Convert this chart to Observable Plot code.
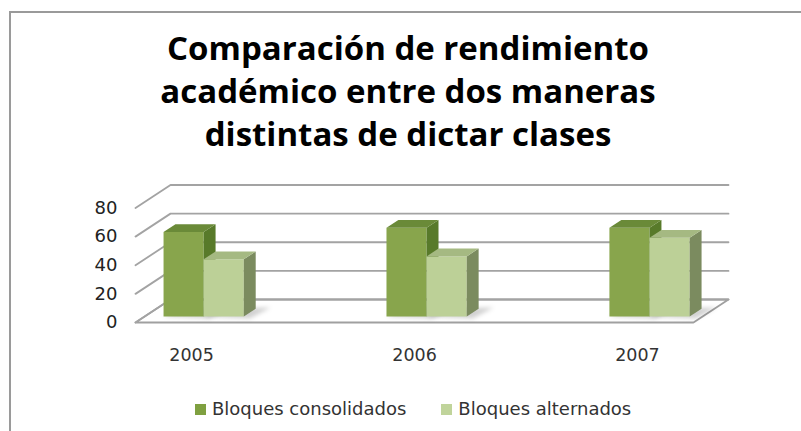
<!DOCTYPE html>
<html>
<head>
<meta charset="utf-8">
<script src="https://cdn.jsdelivr.net/npm/d3@7"></script>
<script src="https://cdn.jsdelivr.net/npm/@observablehq/plot@0.6"></script>
<style>
  html, body { margin: 0; padding: 0; background: #fff; }
  #root { position: relative; width: 801px; height: 431px; overflow: hidden; background: #fff; }
  #frame { position: absolute; left: 9px; top: 11px; width: 820px; height: 440px; border: 2px solid #9a9a9a; box-sizing: border-box; }
  #title { position: absolute; left: 9px; width: 798px; top: 26px; text-align: center;
           font-family: "Open Sans", sans-serif; font-weight: 700; font-size: 33px; line-height: 43px; color: #000; }
  #chart { position: absolute; left: 0; top: 170px; }
  #legend { position: absolute; left: 195px; top: 398px; display: flex; gap: 35px;
            font-family: "DejaVu Sans", sans-serif; font-size: 18px; line-height: 21px; color: #333; }
  .item { display: flex; align-items: center; gap: 6px; }
  .sw { width: 11px; height: 11px; display: inline-block; margin-top: 2px; }
</style>
</head>
<body>
<div id="root">
  <div id="frame"></div>
  <div id="title">Comparación de rendimiento<br>académico entre dos maneras<br>distintas de dictar clases</div>
  <div id="chart"></div>
  <div id="legend"></div>
</div>
<script>
// ---- data ----
const years = ["2005", "2006", "2007"];
const consolidados = [59, 62, 62];
const alternados = [40, 42, 55];
const seriesNames = ["Bloques consolidados", "Bloques alternados"];
const yTicks = [0, 20, 40, 60, 80];

// ---- styles ----
const seriesColors = [
  {front: "#88a54c", side: "#587a2a", top: "#6a8a38", swatch: "#7fa040"},
  {front: "#bcd097", side: "#7b8b5f", top: "#a5b982", swatch: "#c0d49b"}
];

// ---- layout ----
const W = 801, H = 200;
const ML = 135, MR = 108, MT = 37.5, MB = 48;
const X0 = -0.265, X1 = 2.238;
const kx = (W - ML - MR) / (X1 - X0);
const ky = (H - MT - MB) / 80;
const DX = 35, DY = 23;           // depth offset of the back wall (px)
const proj = (x, y, d) => ({x: x + d * DX / kx, y: y + d * DY / ky});
const barW = 0.18, d0 = 0.26, d1 = 0.6;

// grid lines (left wall + back wall)
const grid = [];
yTicks.forEach(t => {
  [proj(X0, t, 0), proj(X0, t, 1), proj(X1, t, 1)].forEach(p => grid.push({...p, g: t}));
});
const floor = [proj(X0, 0, 0), proj(X1, 0, 0), proj(X1, 0, 1), proj(X0, 0, 1), proj(X0, 0, 0)];

// bars
const series = [consolidados, alternados];
const faces = series.map(() => ({front: [], side: [], top: [], shadow: []}));
series.forEach((vals, s) => {
  vals.forEach((v, i) => {
    const xa = i - barW + s * barW, xb = xa + barW;
    const f = faces[s];
    const id = years[i];
    [proj(xa, 0, d0), proj(xb, 0, d0), proj(xb, v, d0), proj(xa, v, d0)].forEach(p => f.front.push({...p, g: id}));
    [proj(xb, 0, d0), proj(xb, 0, d1), proj(xb, v, d1), proj(xb, v, d0)].forEach(p => f.side.push({...p, g: id}));
    [proj(xa, v, d0), proj(xb, v, d0), proj(xb, v, d1), proj(xa, v, d1)].forEach(p => f.top.push({...p, g: id}));
    const sx = 6 / kx, sy = 5 / ky;
    [proj(xa, 0, d0), proj(xb + sx, -sy * 0.4, d0), proj(xb + sx * 2.2, 0, d1 + 0.05), proj(xa + sx, 0, d1)].forEach(p => f.shadow.push({...p, g: id}));
  });
});

const marks = [
  Plot.line(floor, {x: "x", y: "y", fill: "#fff", stroke: "#a0a0a0", strokeWidth: 1.8}),
  Plot.line(grid, {x: "x", y: "y", z: "g", stroke: "#a3a3a3", strokeWidth: 1.8})
];
faces.forEach((f, s) => {
  marks.push(Plot.line(f.shadow, {x: "x", y: "y", z: "g", fill: "#000", fillOpacity: 0.18, stroke: "none", imageFilter: "blur(2px)"}));
});
faces.forEach((f, s) => {
  const c = seriesColors[s];
  marks.push(
    Plot.line(f.front, {x: "x", y: "y", z: "g", fill: c.front, stroke: "none"}),
    Plot.line(f.side, {x: "x", y: "y", z: "g", fill: c.side, stroke: "none"}),
    Plot.line(f.top, {x: "x", y: "y", z: "g", fill: c.top, stroke: "none"})
  );
});
marks.push(
  Plot.text(yTicks, {x: () => X0, y: d => d, text: d => String(d), textAnchor: "end", dx: -18, fontSize: 18, fill: "#222"}),
  Plot.text(years, {x: (d, i) => i, y: () => 0, text: d => d, dy: 33, dx: -3, fontSize: 17.5, fill: "#333"})
);

const chart = Plot.plot({
  width: W, height: H,
  marginLeft: ML, marginRight: MR, marginTop: MT, marginBottom: MB,
  style: {fontFamily: "DejaVu Sans, sans-serif", background: "transparent", overflow: "visible"},
  x: {type: "linear", domain: [X0, X1], axis: null},
  y: {type: "linear", domain: [0, 80], axis: null},
  marks
});
document.getElementById("chart").appendChild(chart);

// legend
const lg = document.getElementById("legend");
seriesNames.forEach((name, s) => {
  const it = document.createElement("div");
  it.className = "item";
  const sw = document.createElement("span");
  sw.className = "sw";
  sw.style.background = seriesColors[s].swatch;
  const tx = document.createElement("span");
  tx.textContent = name;
  it.appendChild(sw); it.appendChild(tx);
  lg.appendChild(it);
});
</script>
</body>
</html>
